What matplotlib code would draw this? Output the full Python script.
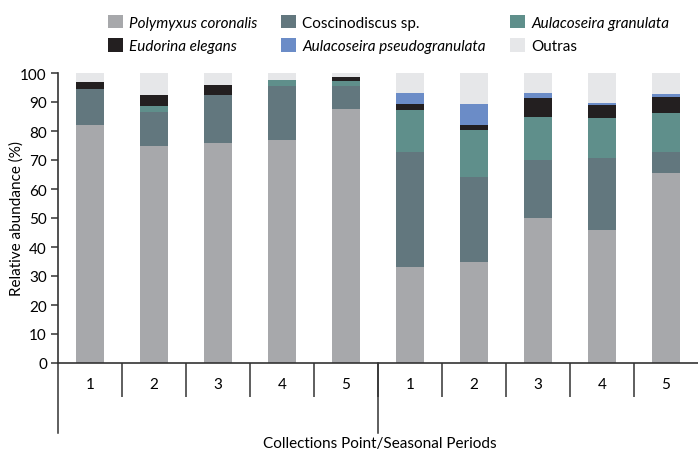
import numpy as np
import matplotlib.pyplot as plt
from matplotlib.patches import Patch
from matplotlib.transforms import blended_transform_factory

plt.rcParams['font.family'] = ['Lato', 'DejaVu Sans']

# abundance relative (%) par point de collecte / période
points = ['1', '2', '3', '4', '5', '1', '2', '3', '4', '5']
polymyxus = [82.0, 75.0, 76.0, 77.0, 87.6, 33.0, 35.0, 50.0, 46.0, 65.5]
coscino = [12.5, 11.6, 16.5, 18.6, 7.9, 39.6, 29.0, 20.0, 24.8, 7.3]
aul_gran = [0.0, 2.0, 0.0, 2.1, 1.7, 14.8, 16.5, 14.8, 13.8, 13.4]
eudorina = [2.4, 3.8, 3.5, 0.0, 1.4, 1.8, 1.4, 6.5, 4.5, 5.5]
aul_pseudo = [0.0, 0.0, 0.0, 0.0, 0.0, 3.8, 7.3, 1.8, 0.7, 1.1]
outras = [3.1, 7.6, 4.1, 2.4, 1.4, 7.2, 11.0, 7.2, 10.3, 7.2]

series = [polymyxus, coscino, aul_gran, eudorina, aul_pseudo, outras]
names = ['Polymyxus coronalis', 'Coscinodiscus sp.', 'Aulacoseira granulata',
         'Eudorina elegans', 'Aulacoseira pseudogranulata', 'Outras']
colors = ['#a7a8ab', '#62777e', '#5f8f8b', '#231f20', '#6b8cc7', '#e6e7e9']
italic = [True, False, True, True, True, False]

fig = plt.figure(figsize=(6.98, 4.52), dpi=100)
ax = fig.add_axes([58/698, 88/452, 640/698, 290/452])

x = np.arange(len(points))
bottom = np.zeros(len(points))
for vals, c in zip(series, colors):
    ax.bar(x, vals, width=0.44, bottom=bottom, color=c, linewidth=0)
    bottom += np.array(vals)

ax.set_xlim(-0.5, 9.5)
ax.set_ylim(0, 100)
ax.set_yticks(np.arange(0, 101, 10))
ax.tick_params(axis='y', labelsize=11, length=5, width=1.1, color='#333333', pad=3)
ax.set_xticks(x)
ax.set_xticklabels(points, fontsize=11)
ax.tick_params(axis='x', length=0, pad=10)
ax.set_xticks(np.arange(0.5, 9.5, 1), minor=True)
ax.tick_params(axis='x', which='minor', length=24.5, width=1.1, color='#333333')

for s in ['top', 'right']:
    ax.spines[s].set_visible(False)
for s in ['left', 'bottom']:
    ax.spines[s].set_linewidth(1.2)
    ax.spines[s].set_color('#333333')

# séparateurs des deux périodes
tr = blended_transform_factory(ax.transData, ax.transAxes)
for xs in [-0.5, 4.5]:
    ax.plot([xs, xs], [0, -0.24], transform=tr, color='#333333', lw=1.1, clip_on=False)

ax.set_ylabel('Relative abundance (%)', fontsize=11)
ax.yaxis.set_label_coords(-0.053, 0.5)
fig.text(380/698, 1 - 444/452, 'Collections Point/Seasonal Periods',
         ha='center', va='center', fontsize=11)

order = [0, 3, 1, 4, 2, 5]
handles = [Patch(facecolor=colors[i], edgecolor='none') for i in order]
leg = fig.legend(handles, [names[i] for i in order], ncol=3, loc='upper left',
                 bbox_to_anchor=(100/698, 1 - 8/452), frameon=False, borderpad=0,
                 fontsize=11, handlelength=1.0, handleheight=1.0,
                 handletextpad=0.4, labelspacing=0.55, columnspacing=1.55)
for t, i in zip(leg.get_texts(), order):
    if italic[i]:
        t.set_style('italic')

fig.savefig('out.png', dpi=100)
